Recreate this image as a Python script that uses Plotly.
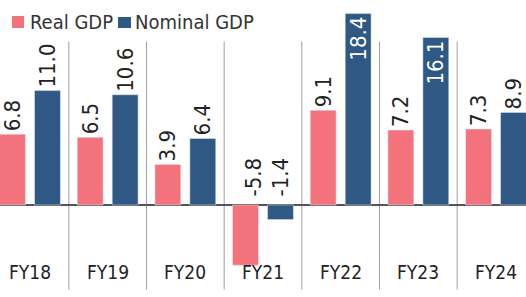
import plotly.graph_objects as go

categories = ["FY18", "FY19", "FY20", "FY21", "FY22", "FY23", "FY24"]
real_gdp = [6.8, 6.5, 3.9, -5.8, 9.1, 7.2, 7.3]
nominal_gdp = [11.0, 10.6, 6.4, -1.4, 18.4, 16.1, 8.9]

PINK = "#f3727b"
BLUE = "#2f5884"
FAMILY = "DejaVu Sans Condensed, DejaVu Sans, sans-serif"

try:
    go.layout.Font(stretch="condensed")
    HAS_STRETCH = True
except Exception:
    HAS_STRETCH = False


def font(size, color):
    f = dict(family=FAMILY, size=size, color=color)
    if HAS_STRETCH:
        f["stretch"] = "condensed"
    return f


x = list(range(len(categories)))


def fmt(v):
    return f"{v:.1f}"


def positions(vals, inside_min=15):
    pos, txt, col = [], [], []
    for v in vals:
        if v < 0:
            pos.append("none"); txt.append(""); col.append("#222")
        elif v >= inside_min:
            pos.append("inside"); txt.append(fmt(v)); col.append("white")
        else:
            pos.append("outside"); txt.append(fmt(v)); col.append("#222")
    return pos, txt, col


fig = go.Figure()
for name, vals, color in [("Real GDP", real_gdp, PINK), ("Nominal GDP", nominal_gdp, BLUE)]:
    pos, txt, col = positions(vals)
    fig.add_trace(go.Bar(
        x=x, y=vals, name=name, marker_color=color,
        text=txt, textposition=pos, textangle=-90,
        insidetextanchor="end", constraintext="none", cliponaxis=False,
        textfont=font(22, col), hoverinfo="skip",
    ))

# labels for negative bars, placed above the zero line
shifts = {"Real GDP": -10, "Nominal GDP": 17}
for name, vals in [("Real GDP", real_gdp), ("Nominal GDP", nominal_gdp)]:
    for xi, v in zip(x, vals):
        if v < 0:
            fig.add_annotation(x=xi, y=0, text=fmt(v), textangle=-90, showarrow=False,
                               xanchor="center", yanchor="bottom", yshift=6,
                               xshift=shifts[name], font=font(22, "#222"))

# category labels along the bottom
for xi, c in zip(x, categories):
    fig.add_annotation(x=xi, y=0, yref="paper", text=c, showarrow=False,
                       yanchor="middle", yshift=25, font=font(19, "#222"))

# separators between categories
for k in range(len(categories) - 1):
    fig.add_shape(type="line", x0=k + 0.5, x1=k + 0.5, xref="x", yref="paper",
                  y0=0.025, y1=0.86, line=dict(color="#a0a0a0", width=1), layer="below")

# legend (manual)
fig.add_shape(type="rect", xref="paper", yref="paper", x0=12 / 526, x1=24 / 526,
              y0=1 - 28 / 297, y1=1 - 16 / 297, fillcolor=PINK, line_width=0)
fig.add_shape(type="rect", xref="paper", yref="paper", x0=118 / 526, x1=131 / 526,
              y0=1 - 28 / 297, y1=1 - 17 / 297, fillcolor=BLUE, line_width=0)
fig.add_annotation(xref="paper", yref="paper", x=28 / 526, y=1 - 22 / 297, text="Real GDP",
                   showarrow=False, xanchor="left", yanchor="middle", font=font(20, "#333"))
fig.add_annotation(xref="paper", yref="paper", x=133 / 526, y=1 - 22 / 297, text="Nominal GDP",
                   showarrow=False, xanchor="left", yanchor="middle", font=font(20, "#333"))

fig.update_layout(
    width=526, height=297, margin=dict(l=0, r=0, t=0, b=0),
    barmode="group", bargap=0.1, bargroupgap=0.26,
    plot_bgcolor="white", paper_bgcolor="white", showlegend=False,
    font=font(14, "#222"),
)
fig.update_xaxes(range=[-0.386, 6.386], showticklabels=False, showgrid=False,
                 zeroline=False, showline=False, ticks="")
fig.update_yaxes(range=[-8.85, 19.71], showticklabels=False, showgrid=False,
                 zeroline=True, zerolinecolor="#555", zerolinewidth=1.5, showline=False, ticks="")

fig.write_html("out.html", config={"displayModeBar": False},
               post_script="document.body.style.margin='0';")
